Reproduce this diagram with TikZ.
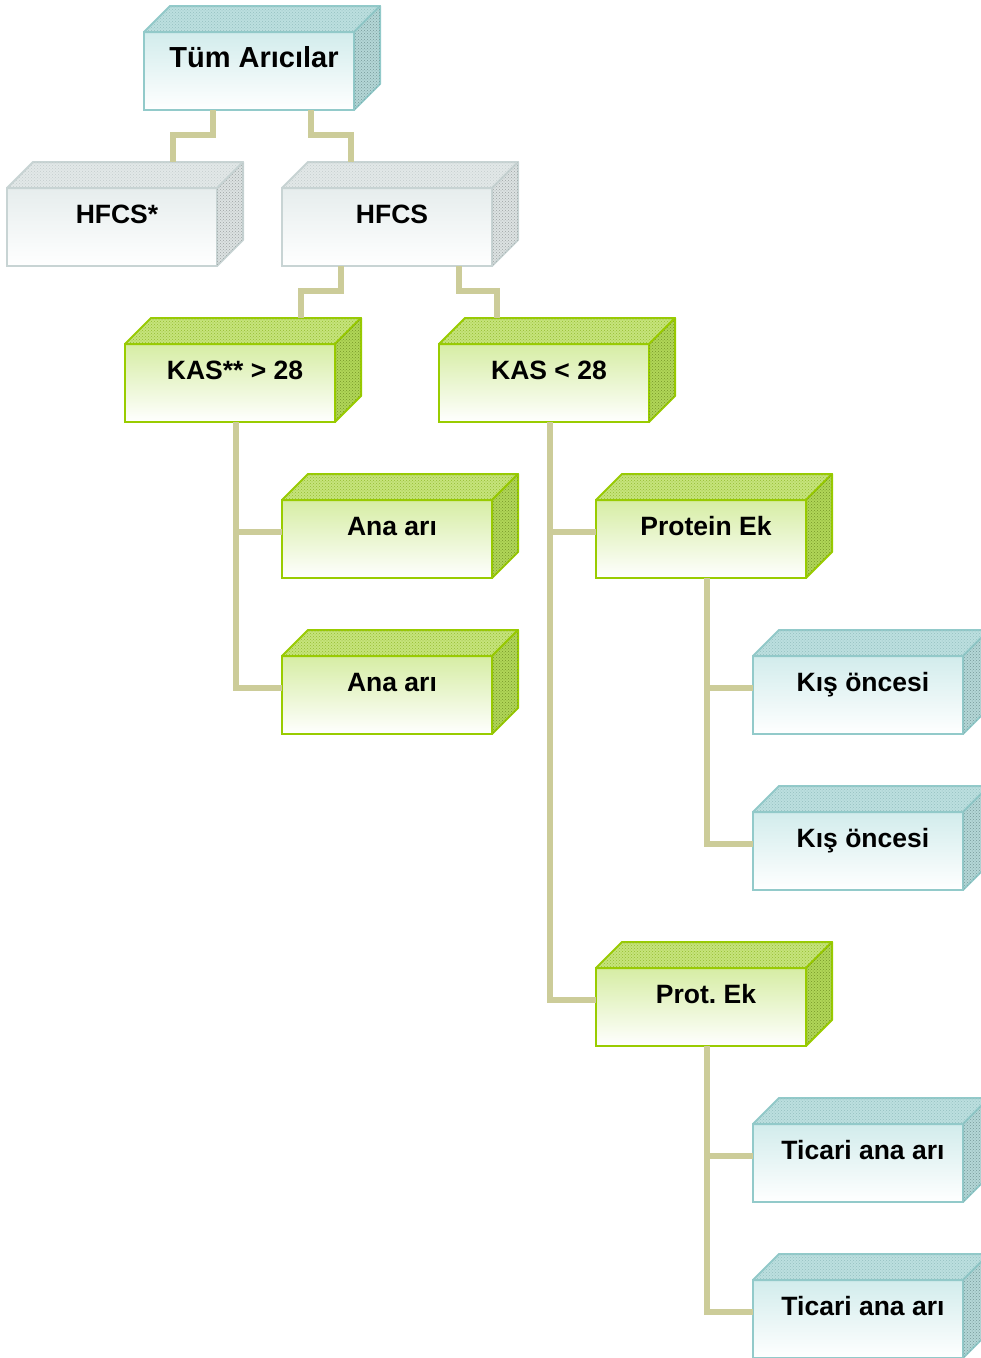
\documentclass[tikz,border=0pt]{standalone}
\usepackage{fontspec}
\setmainfont{Liberation Sans}
\usetikzlibrary{patterns}
\definecolor{tealB}{HTML}{92CACA}
\definecolor{tealF}{HTML}{D2ECEC}
\definecolor{tealT}{HTML}{BCDFDF}
\definecolor{tealS}{HTML}{B4D6D6}
\definecolor{tealD}{HTML}{94C0C0}
\definecolor{grnB}{HTML}{99CC00}
\definecolor{grnF}{HTML}{D6EDA4}
\definecolor{grnT}{HTML}{C6E47C}
\definecolor{grnS}{HTML}{B0D658}
\definecolor{grnD}{HTML}{94BC30}
\definecolor{gryB}{HTML}{C8D4D4}
\definecolor{gryF}{HTML}{E6EDED}
\definecolor{gryT}{HTML}{E2E8E8}
\definecolor{gryS}{HTML}{DCE2E2}
\definecolor{gryD}{HTML}{C4CCCC}
\definecolor{conncol}{HTML}{CCCC99}
\tikzset{
  front/.style={draw, line width=2pt, minimum width=210pt, minimum height=78pt,
    inner sep=0pt, outer sep=0pt, anchor=north west,
    font=\bfseries\fontsize{26.5}{30}\selectfont, text height=20pt, text depth=28pt,
    execute at begin node=\hspace*{10pt}},
  tealfront/.style={tealB, top color=tealF, bottom color=white, text=black},
  grnfront/.style={grnB, top color=grnF, bottom color=white, text=black},
  gryfront/.style={gryB, top color=gryF, bottom color=white, text=black},
  tealtop/.style={draw=tealB, line width=2pt, line join=round, fill=tealT, postaction={pattern=crosshatch dots, pattern color=tealD}},
  tealside/.style={draw=tealB, line width=2pt, line join=round, fill=tealS, postaction={pattern=crosshatch dots, pattern color=tealD!80!black}},
  grntop/.style={draw=grnB, line width=2pt, line join=round, fill=grnT, postaction={pattern=crosshatch dots, pattern color=grnD}},
  grnside/.style={draw=grnB, line width=2pt, line join=round, fill=grnS, postaction={pattern=crosshatch dots, pattern color=grnD!80!black}},
  grytop/.style={draw=gryB, line width=2pt, line join=round, fill=gryT, postaction={pattern=crosshatch dots, pattern color=gryD}},
  gryside/.style={draw=gryB, line width=2pt, line join=round, fill=gryS, postaction={pattern=crosshatch dots, pattern color=gryD!80!black}},
  conn/.style={draw=conncol, line width=6pt}
}
\newcommand\cub[5]{%
  \node[front, #4front] (#1) at (#2,#3) {#5};
  \path[#4top] (#1.north west) -- ++(26,-26) -- ++(210,0) -- (#1.north east) -- cycle;
  \path[#4side] (#1.north east) -- ++(26,-26) -- ++(0,78) -- (#1.south east) -- cycle;
}
\begin{document}
\begin{tikzpicture}[x=1pt,y=-1pt]
\useasboundingbox (0,0) rectangle (981,1358);
\cub{tum}{144}{32}{teal}{\fontsize{29}{32}\selectfont Tüm Arıcılar}
\cub{hfcsA}{7}{188}{gry}{HFCS*}
\cub{hfcsB}{282}{188}{gry}{HFCS}
\cub{kasA}{125}{344}{grn}{KAS** > 28}
\cub{kasB}{439}{344}{grn}{KAS < 28}
\cub{anaA}{282}{500}{grn}{Ana arı}
\cub{anaB}{282}{656}{grn}{Ana arı}
\cub{protA}{596}{500}{grn}{Protein Ek}
\cub{kisA}{753}{656}{teal}{Kış öncesi}
\cub{kisB}{753}{812}{teal}{Kış öncesi}
\cub{protB}{596}{968}{grn}{Prot.\ Ek}
\cub{ticA}{753}{1124}{teal}{Ticari ana arı}
\cub{ticB}{753}{1280}{teal}{Ticari ana arı}
% connectors
\draw[conn] ([xshift=-36pt]tum.south) -- ++(0,25) -| ([xshift=61pt,yshift=26pt]hfcsA.north);
\draw[conn] ([xshift=62pt]tum.south) -- ++(0,25) -| ([xshift=-36pt,yshift=26pt]hfcsB.north);
\draw[conn] ([xshift=-46pt]hfcsB.south) -- ++(0,25) -| ([xshift=71pt,yshift=26pt]kasA.north);
\draw[conn] ([xshift=72pt]hfcsB.south) -- ++(0,25) -| ([xshift=-47pt,yshift=26pt]kasB.north);
\draw[conn] ([xshift=6pt]kasA.south) |- ([yshift=7pt]anaA.west);
\draw[conn] ([xshift=6pt]kasA.south) |- ([yshift=7pt]anaB.west);
\draw[conn] ([xshift=6pt]kasB.south) |- ([yshift=7pt]protA.west);
\draw[conn] ([xshift=6pt]kasB.south) |- ([yshift=7pt]protB.west);
\draw[conn] ([xshift=6pt]protA.south) |- ([yshift=7pt]kisA.west);
\draw[conn] ([xshift=6pt]protA.south) |- ([yshift=7pt]kisB.west);
\draw[conn] ([xshift=6pt]protB.south) |- ([yshift=7pt]ticA.west);
\draw[conn] ([xshift=6pt]protB.south) |- ([yshift=7pt]ticB.west);
\end{tikzpicture}
\end{document}
